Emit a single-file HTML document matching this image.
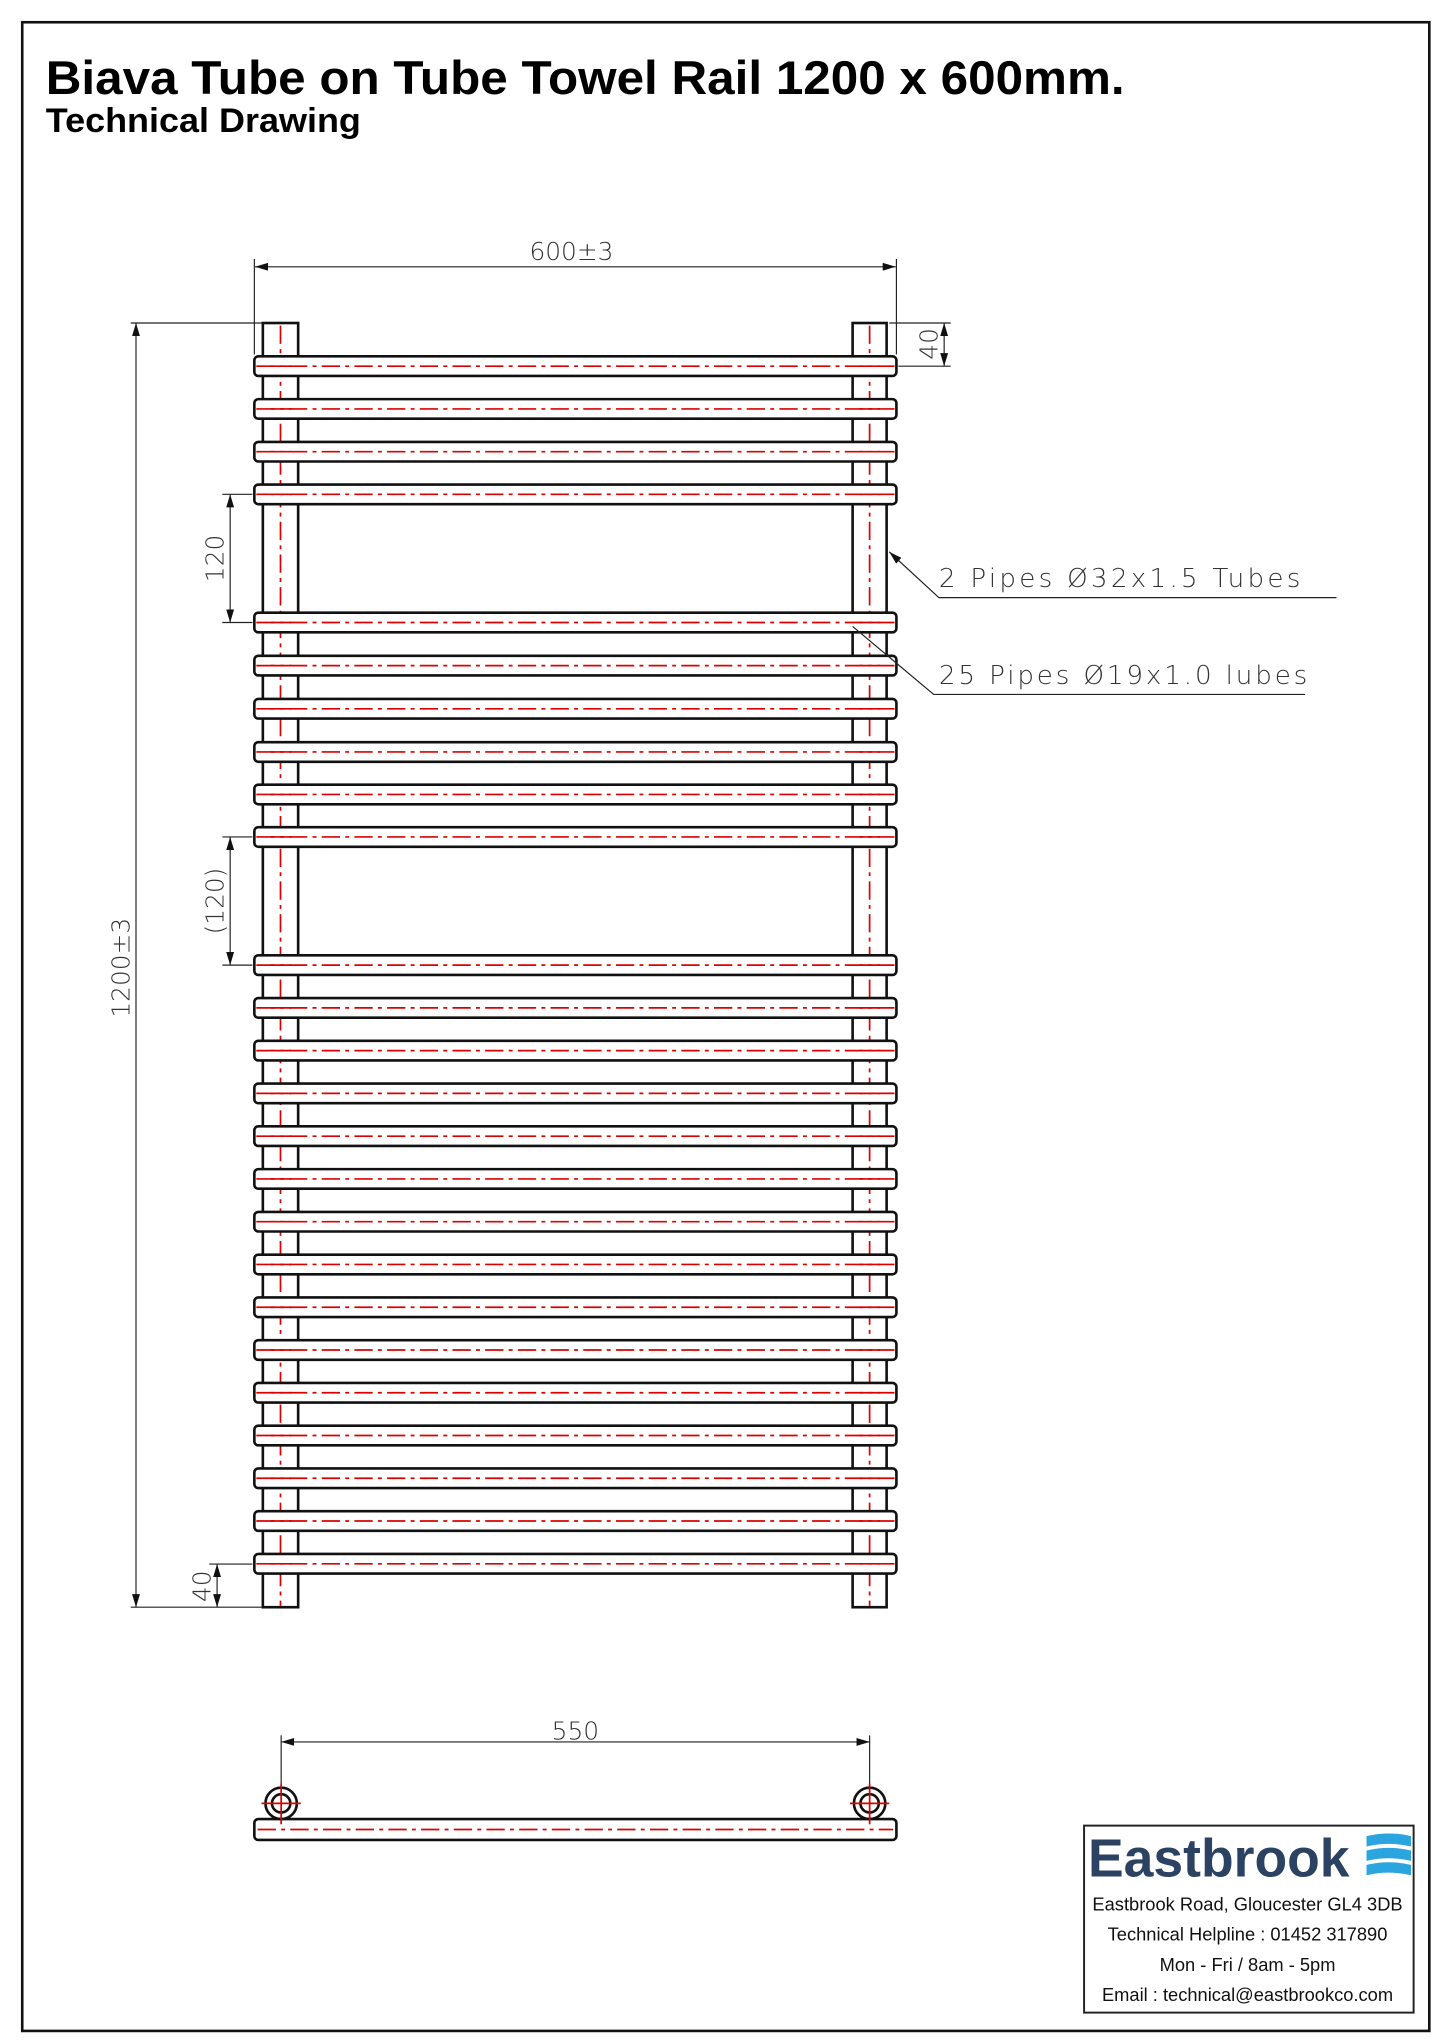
<!DOCTYPE html>
<html><head><meta charset="utf-8"><style>
html,body{margin:0;padding:0;background:#fff;}
svg{display:block}
.cad{font-family:"DejaVu Sans","Liberation Sans",sans-serif;font-weight:200;fill:#333;}
</style></head><body>
<svg width="1445" height="2044" viewBox="0 0 1105 1563" preserveAspectRatio="none" xmlns="http://www.w3.org/2000/svg">
<defs>
<g id="bar">
<rect x="194.5" y="-7.5" width="491" height="15" rx="3" fill="#fff" stroke="#111" stroke-width="2"/>
<line x1="196" y1="0" x2="684" y2="0" stroke="#d00" stroke-width="1.3" stroke-dasharray="14 4 3 4"/>
<line x1="207" y1="0" x2="223" y2="0" stroke="#d00" stroke-width="1.3"/>
<line x1="657" y1="0" x2="673" y2="0" stroke="#d00" stroke-width="1.3"/>
</g>
<marker id="ar" viewBox="0 0 10 6" refX="10" refY="3" markerWidth="10" markerHeight="6" orient="auto-start-reverse" markerUnits="userSpaceOnUse"><path d="M0,0 L10,3 L0,6z" fill="#111"/></marker>
</defs>
<rect x="17" y="17" width="1076" height="1536" fill="none" stroke="#111" stroke-width="2"/>
<text x="35" y="72" font-family="Liberation Sans, sans-serif" font-weight="bold" font-size="36" textLength="825" lengthAdjust="spacingAndGlyphs">Biava Tube on Tube Towel Rail 1200 x 600mm.</text>
<text x="35" y="101" font-family="Liberation Sans, sans-serif" font-weight="bold" font-size="26" textLength="241" lengthAdjust="spacingAndGlyphs">Technical Drawing</text>

<rect x="201" y="247" width="27" height="982" fill="#fff" stroke="#111" stroke-width="2"/>
<rect x="652" y="247" width="26" height="982" fill="#fff" stroke="#111" stroke-width="2"/>
<line x1="214.5" y1="249" x2="214.5" y2="1228" stroke="#d00" stroke-width="1.3" stroke-dasharray="14 4 3 4"/>
<line x1="665" y1="249" x2="665" y2="1228" stroke="#d00" stroke-width="1.3" stroke-dasharray="14 4 3 4"/>

<use href="#bar" y="280"/><use href="#bar" y="312.7"/><use href="#bar" y="345.4"/><use href="#bar" y="378"/>
<use href="#bar" y="476"/><use href="#bar" y="509"/><use href="#bar" y="542"/><use href="#bar" y="575"/><use href="#bar" y="607.5"/><use href="#bar" y="640"/>
<use href="#bar" y="738"/><use href="#bar" y="770.7"/><use href="#bar" y="803.4"/><use href="#bar" y="836.1"/><use href="#bar" y="868.8"/><use href="#bar" y="901.5"/><use href="#bar" y="934.2"/><use href="#bar" y="966.9"/><use href="#bar" y="999.6"/><use href="#bar" y="1032.3"/><use href="#bar" y="1065"/><use href="#bar" y="1097.7"/><use href="#bar" y="1130.4"/><use href="#bar" y="1163.1"/><use href="#bar" y="1195.8"/>

<g stroke="#222" stroke-width="0.9" fill="none">
<line x1="194.5" y1="198" x2="194.5" y2="271"/>
<line x1="685.5" y1="198" x2="685.5" y2="271"/>
<line x1="195" y1="204" x2="685" y2="204" marker-start="url(#ar)" marker-end="url(#ar)"/>
<line x1="100" y1="247" x2="200" y2="247"/>
<line x1="100" y1="1229" x2="200" y2="1229"/>
<line x1="104" y1="247" x2="104" y2="1229" marker-start="url(#ar)" marker-end="url(#ar)"/>
<line x1="170" y1="378" x2="193" y2="378"/>
<line x1="170" y1="476" x2="193" y2="476"/>
<line x1="176" y1="378" x2="176" y2="476" marker-start="url(#ar)" marker-end="url(#ar)"/>
<line x1="170" y1="640" x2="193" y2="640"/>
<line x1="170" y1="738" x2="193" y2="738"/>
<line x1="176" y1="640" x2="176" y2="738" marker-start="url(#ar)" marker-end="url(#ar)"/>
<line x1="160" y1="1196" x2="193" y2="1196"/>
<line x1="166" y1="1196" x2="166" y2="1229" marker-start="url(#ar)" marker-end="url(#ar)"/>
<line x1="680" y1="247" x2="727" y2="247"/>
<line x1="687" y1="280" x2="727" y2="280"/>
<line x1="722" y1="247" x2="722" y2="280" marker-start="url(#ar)" marker-end="url(#ar)"/>
<polyline points="680,422 718,457 1022,457" marker-start="url(#ar)"/>
<polyline points="652,479 714,531 998,531"/>
<line x1="215" y1="1327" x2="215" y2="1391"/>
<line x1="665" y1="1327" x2="665" y2="1391"/>
<line x1="215" y1="1332" x2="665" y2="1332" marker-start="url(#ar)" marker-end="url(#ar)"/>
</g>

<g class="cad">
<text x="437" y="199" font-size="19" text-anchor="middle">600±3</text>
<text transform="translate(99,740) rotate(-90)" font-size="19" text-anchor="middle">1200±3</text>
<text transform="translate(171,427) rotate(-90)" font-size="19" text-anchor="middle">120</text>
<text transform="translate(171,689) rotate(-90)" font-size="19" text-anchor="middle">(120)</text>
<text transform="translate(161,1213) rotate(-90)" font-size="19" text-anchor="middle">40</text>
<text transform="translate(717,263) rotate(-90)" font-size="19" text-anchor="middle">40</text>
<text x="718" y="449" font-size="20" letter-spacing="2.5">2 Pipes Ø32x1.5 Tubes</text>
<text x="718" y="523" font-size="20" letter-spacing="2.2">25 Pipes Ø19x1.0 lubes</text>
<text x="440" y="1330" font-size="19" text-anchor="middle">550</text>
</g>

<rect x="194.5" y="1391" width="491" height="16" rx="3" fill="#fff" stroke="#111" stroke-width="2"/>
<line x1="197" y1="1399" x2="683" y2="1399" stroke="#d00" stroke-width="1.3" stroke-dasharray="14 4 3 4"/>
<g fill="none" stroke="#111" stroke-width="2">
<circle cx="215" cy="1379" r="12"/><circle cx="215" cy="1379" r="7"/>
<circle cx="665" cy="1379" r="12"/><circle cx="665" cy="1379" r="7"/>
</g>
<g stroke="#d00" stroke-width="1.3">
<line x1="200" y1="1379" x2="230" y2="1379"/><line x1="215" y1="1364" x2="215" y2="1395"/>
<line x1="650" y1="1379" x2="680" y2="1379"/><line x1="665" y1="1364" x2="665" y2="1395"/>
</g>

<rect x="829" y="1396" width="252" height="143" fill="#fff" stroke="#222" stroke-width="1.5"/>
<text x="832" y="1435" font-family="Liberation Sans, sans-serif" font-weight="bold" font-size="41" fill="#2c4263" textLength="200" lengthAdjust="spacingAndGlyphs">Eastbrook</text>
<g fill="#2aa5df">
<path d="M1045,1404 q17,-4 34,0 v8 q-17,-4 -34,0z"/>
<path d="M1045,1415 q17,-4 34,0 v8 q-17,-4 -34,0z"/>
<path d="M1045,1426 q17,-4 34,0 v8 q-17,-4 -34,0z"/>
</g>
<g font-family="Liberation Sans, sans-serif" font-size="14" fill="#111" text-anchor="middle">
<text x="954" y="1461">Eastbrook Road, Gloucester GL4 3DB</text>
<text x="954" y="1484">Technical Helpline : 01452 317890</text>
<text x="954" y="1507">Mon - Fri / 8am - 5pm</text>
<text x="954" y="1530">Email : technical@eastbrookco.com</text>
</g>
</svg>
</body></html>
